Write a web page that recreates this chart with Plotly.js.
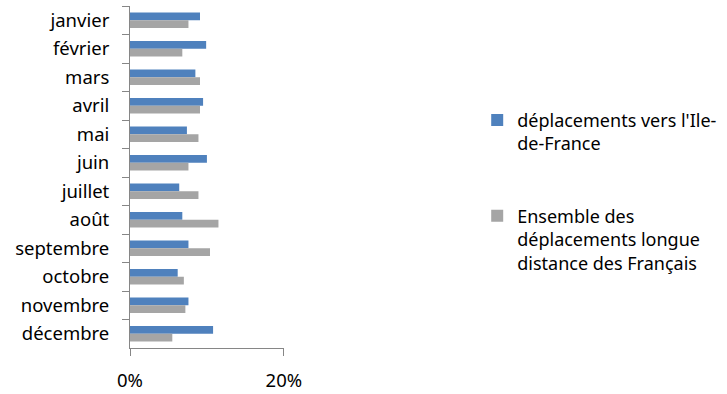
<!DOCTYPE html>
<html>
<head>
<meta charset="utf-8">
<script src="https://cdn.plot.ly/plotly-3.0.1.min.js"></script>
<style>
  html, body { margin: 0; padding: 0; background: #fff; }
  #chart { width: 727px; height: 394px; }
</style>
</head>
<body>
<div id="chart"></div>
<script>
// Monthly share of trips (%)
const mois = ["janvier", "février", "mars", "avril", "mai", "juin", "juillet",
              "août", "septembre", "octobre", "novembre", "décembre"];
const versIleDeFrance = [9.1, 9.9, 8.5, 9.5, 7.4, 10.0, 6.4, 6.8, 7.6, 6.2, 7.6, 10.8];
const ensembleFrancais = [7.6, 6.8, 9.1, 9.1, 8.9, 7.6, 8.9, 11.5, 10.4, 7.0, 7.2, 5.5];
const nomIdf = "déplacements vers l'Ile-<br>de-France";
const nomEnsemble = "Ensemble des<br>déplacements longue<br>distance des Français";
const xTicks = [0, 20];
const xTickLabels = ["0%", "20%"];

const font = "Noto Sans";
const axisColor = "#868686";

const traces = [
  {
    type: "bar", orientation: "h", name: nomIdf, legendgroup: "idf",
    y: mois, x: versIleDeFrance,
    marker: { color: "#4F81BD" },
    hoverinfo: "skip"
  },
  {
    type: "bar", orientation: "h", name: nomEnsemble, legendgroup: "ens",
    y: mois, x: ensembleFrancais,
    marker: { color: "#A5A5A5" },
    hoverinfo: "skip"
  }
];

const layout = {
  width: 727, height: 394,
  margin: { l: 130, r: 442, t: 6, b: 46 },
  paper_bgcolor: "#fff", plot_bgcolor: "#fff",
  barmode: "group", bargap: 0.455, bargroupgap: 0,
  font: { family: font, size: 18.5, color: "#000" },
  showlegend: true,
  legend: {
    x: 2.24, xanchor: "left", y: 0.72, yanchor: "top",
    font: { family: font, size: 18, color: "#000" },
    tracegroupgap: 46, itemwidth: 30, valign: "top"
  },
  xaxis: {
    range: [0, 20.02], tickvals: xTicks, ticktext: xTickLabels,
    showline: true, linecolor: axisColor, linewidth: 1,
    ticks: "outside", ticklen: 7, tickcolor: axisColor,
    showgrid: true, gridcolor: axisColor, gridwidth: 1,
    zeroline: false, ticklabelstandoff: 9,
    fixedrange: true
  },
  yaxis: {
    autorange: "reversed", type: "category",
    showline: true, linecolor: axisColor, linewidth: 1,
    ticks: "outside", tickson: "boundaries", ticklen: 7, tickcolor: axisColor,
    showgrid: false, zeroline: false, ticklabelstandoff: 16,
    fixedrange: true
  }
};

Plotly.newPlot("chart", traces, layout, { displayModeBar: false, staticPlot: true });
</script>
</body>
</html>
